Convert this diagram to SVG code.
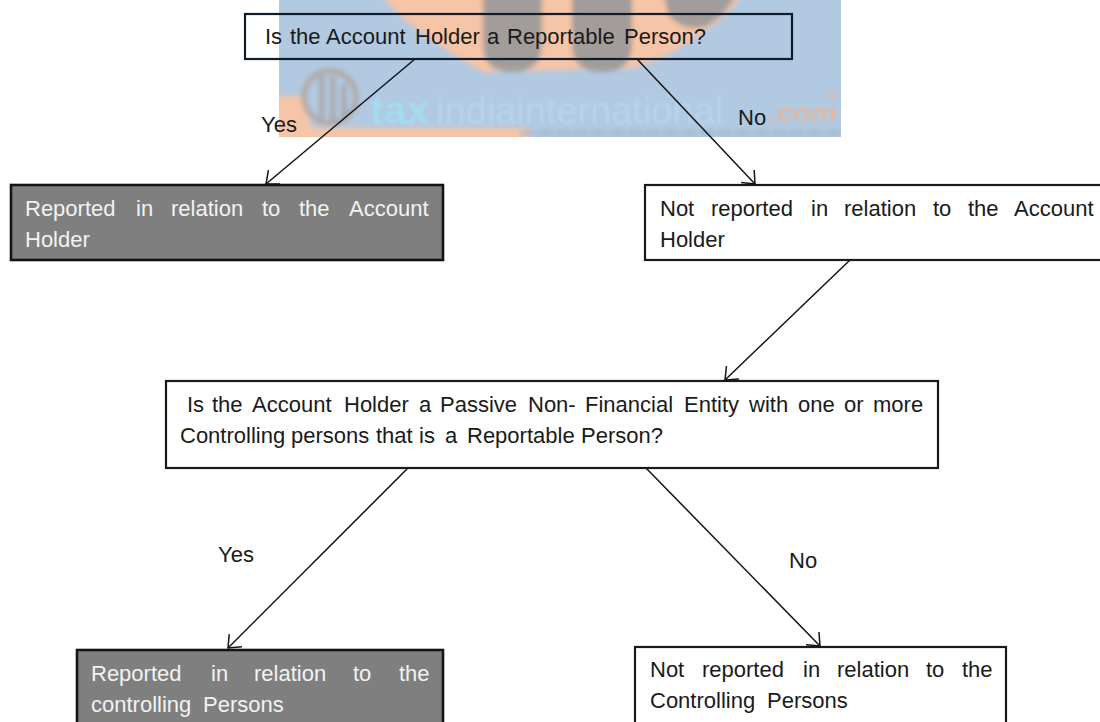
<svg xmlns="http://www.w3.org/2000/svg" width="1100" height="722" viewBox="0 0 1100 722">
<style>
text{font-family:"Liberation Sans",Arial,sans-serif;font-size:22px;fill:#1a1a1a}
.box{fill:#fff;stroke:#1a1a1a;stroke-width:2.2}
.top{fill:none;stroke:#0f1c2a;stroke-width:2.2}
.dark{fill:#7f7f7f;stroke:#141414;stroke-width:2.6}
text.w{fill:#f2f2f2}
.c{fill:none;stroke:#141414;stroke-width:1.5}
</style>
<defs>
<marker id="a" markerUnits="userSpaceOnUse" markerWidth="24" markerHeight="24" refX="20" refY="11" orient="auto"><path d="M9.3 2L20 11L9.3 20" fill="none" stroke="#141414" stroke-width="1.5"/></marker>
<filter id="b" x="-10%" y="-10%" width="120%" height="120%"><feGaussianBlur stdDeviation="2.5"/></filter>
<filter id="s" x="-5%" y="-20%" width="110%" height="140%"><feGaussianBlur stdDeviation="0.8"/></filter>
<clipPath id="wm"><rect x="279" y="0" width="562" height="137"/></clipPath>
</defs>
<g id="watermark" clip-path="url(#wm)">
<rect x="279" y="0" width="562" height="137" fill="#b1c9e1"/>
<g filter="url(#b)">
<path d="M378 -8H745Q725 20 695 38Q665 60 632 68L483 72Q465 62 440 46Q405 24 378 -8Z" fill="#f6c4a6"/>
<path d="M483 -8H542V44Q542 72 512 72Q483 72 483 44Z" fill="#a29d9a"/>
<path d="M572 -8H632V44Q632 72 602 72Q572 72 572 44Z" fill="#a29d9a"/>
<path d="M663 -8H737Q728 14 705 27Q682 32 668 14Z" fill="#a29d9a"/>
<path d="M275 96H300L312 128H530V142H275Z" fill="#f6c4a6"/>
<circle cx="330" cy="97" r="26" fill="#b1c9e1" stroke="#b0a69c" stroke-width="5"/>
<path d="M322 76V118M333 76V122M344 84V118" stroke="#a8a4a0" stroke-width="5"/>
<path d="M520 133H840" stroke="#a0b4c8" stroke-width="4" stroke-dasharray="14 4"/>
<circle cx="832" cy="96" r="3" fill="#e8b99a"/>
</g>
<g filter="url(#s)">
<text x="370" y="124" style="font-size:41px;font-weight:bold;fill:#a4dbf0">tax</text>
<text x="436" y="124" style="font-size:38px;fill:#b4d6ec">indiainternational</text>
<text x="769" y="121" textLength="68" lengthAdjust="spacingAndGlyphs" style="font-size:24px;font-style:italic;font-weight:bold;fill:#e2b8a0">.com</text>
</g>
</g>
<g id="n1"><rect class="top" x="245" y="14" width="547" height="45"/><text y="44"><tspan x="265">Is</tspan> <tspan x="290">the</tspan> <tspan x="326">Account</tspan> <tspan x="415">Holder</tspan> <tspan x="487">a</tspan> <tspan x="507">Reportable</tspan> <tspan x="624">Person?</tspan></text></g>
<g id="lyes1"><text x="261" y="132">Yes</text></g>
<g id="lno1"><text x="738" y="125">No</text></g>
<g id="n2"><rect class="dark" x="11" y="185" width="432" height="75"/><text class="w" y="216"><tspan x="25">Reported</tspan> <tspan x="136">in</tspan> <tspan x="171">relation</tspan> <tspan x="262">to</tspan> <tspan x="299">the</tspan> <tspan x="349">Account</tspan></text><text class="w" x="25" y="247">Holder</text></g>
<g id="n3"><rect class="box" x="645" y="185" width="470" height="75"/><text y="216"><tspan x="660">Not</tspan> <tspan x="711">reported</tspan> <tspan x="811">in</tspan> <tspan x="844">relation</tspan> <tspan x="933">to</tspan> <tspan x="968">the</tspan> <tspan x="1014">Account</tspan></text><text x="660" y="247">Holder</text></g>
<g id="n4"><rect class="box" x="166" y="381" width="772" height="87"/><text y="412"><tspan x="187">Is</tspan> <tspan x="212">the</tspan> <tspan x="252">Account</tspan> <tspan x="344">Holder</tspan> <tspan x="419">a</tspan> <tspan x="440">Passive</tspan> <tspan x="528">Non-</tspan> <tspan x="585">Financial</tspan> <tspan x="684">Entity</tspan> <tspan x="749">with</tspan> <tspan x="798">one</tspan> <tspan x="844">or</tspan> <tspan x="873">more</tspan></text><text y="443"><tspan x="180">Controlling</tspan> <tspan x="291">persons</tspan> <tspan x="376">that</tspan> <tspan x="419">is</tspan> <tspan x="445">a</tspan> <tspan x="467">Reportable</tspan> <tspan x="581">Person?</tspan></text></g>
<g id="lyes2"><text x="218" y="562">Yes</text></g>
<g id="lno2"><text x="789" y="568">No</text></g>
<g id="n5"><rect class="dark" x="77" y="650" width="366" height="90"/><text class="w" y="681"><tspan x="91">Reported</tspan> <tspan x="211">in</tspan> <tspan x="254">relation</tspan> <tspan x="353">to</tspan> <tspan x="399">the</tspan></text><text class="w" y="712"><tspan x="91">controlling</tspan> <tspan x="203">Persons</tspan></text></g>
<g id="n6"><rect class="box" x="635" y="647" width="371" height="90"/><text y="677"><tspan x="650">Not</tspan> <tspan x="702">reported</tspan> <tspan x="803">in</tspan> <tspan x="837">relation</tspan> <tspan x="926">to</tspan> <tspan x="962">the</tspan></text><text y="708"><tspan x="650">Controlling</tspan> <tspan x="767">Persons</tspan></text></g>
<g id="connectors">
<path class="c" marker-end="url(#a)" d="M415 59L266 184"/>
<path class="c" marker-end="url(#a)" d="M637 59L755 184"/>
<path class="c" marker-end="url(#a)" d="M850 260L725 380"/>
<path class="c" marker-end="url(#a)" d="M408 468L228 648"/>
<path class="c" marker-end="url(#a)" d="M646 468L820 646"/>
</g>
</svg>
